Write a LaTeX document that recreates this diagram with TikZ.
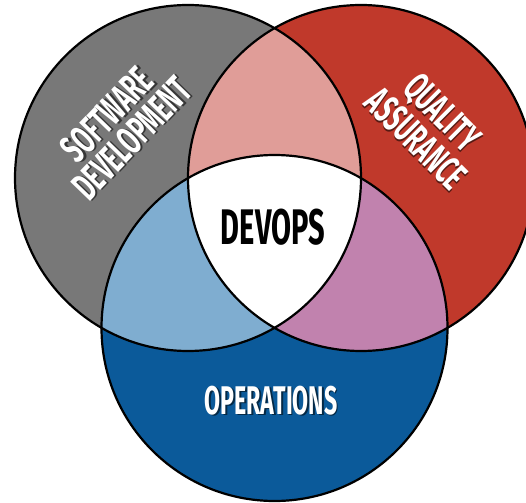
\documentclass[tikz,border=0pt]{standalone}
\usepackage{fontspec}
\newfontfamily\tagfont[FakeStretch=0.58]{Fira Sans}
\usepackage{xcolor}
\usepackage{tikz}
\definecolor{devgray}{HTML}{787878}
\definecolor{qared}{HTML}{C0392B}
\definecolor{opsblue}{HTML}{0B5A9A}
\definecolor{devqa}{HTML}{E09D98}
\definecolor{devblue}{HTML}{7FADD0}
\definecolor{qaops}{HTML}{C182AE}
\newcommand{\ringr}{173}
% white word with its dark drop shadow
\newcommand{\shadowed}[2]{\rlap{\kern1.6pt\raisebox{-1.6pt}{\color{#1}#2}}#2}
\tikzset{ring/.style={draw=black,line width=2.2pt}}
\tikzset{tag/.style={text=white,align=center,font=\tagfont\bfseries\fontsize{40}{34}\selectfont}}
\tikzset{core/.style={text=black,font=\tagfont\bfseries\fontsize{50}{50}\selectfont}}

\begin{document}
\begin{tikzpicture}[x=1pt,y=-1pt]
		\useasboundingbox (0,0) rectangle (526,502);
		\coordinate (sw) at (188,178);
		\coordinate (qa) at (361,178);
		\coordinate (ops) at (274.5,328);
		% the three sets
		\fill[devgray] (sw) circle (\ringr);
		\fill[qared] (qa) circle (\ringr);
		\fill[opsblue] (ops) circle (\ringr);
		% overlaps
		\begin{scope}
			\clip (sw) circle (\ringr);
			\fill[devqa] (qa) circle (\ringr);
			\fill[devblue] (ops) circle (\ringr);
		\end{scope}
		\begin{scope}
			\clip (qa) circle (\ringr);
			\fill[qaops] (ops) circle (\ringr);
			\clip (sw) circle (\ringr);
			\fill[white] (ops) circle (\ringr);
		\end{scope}
		\foreach \c in {sw,qa,ops}
			\draw[ring] (\c) circle (\ringr);
		% labels
		\node[tag,rotate=46] (swtag) at (120,127)
			{\shadowed{devgray!45!black}{SOFTWARE}\\\shadowed{devgray!45!black}{DEVELOPMENT}};
		\node[tag,rotate=-45] (qatag) at (429,126)
			{\shadowed{qared!45!black}{QUALITY}\\\shadowed{qared!45!black}{ASSURANCE}};
		\node[tag] (opstag) at (271,401) {\shadowed{opsblue!45!black}{OPERATIONS}};
		\node[core] (devops) at (273,227) {DEVOPS};
	\end{tikzpicture}
\end{document}
